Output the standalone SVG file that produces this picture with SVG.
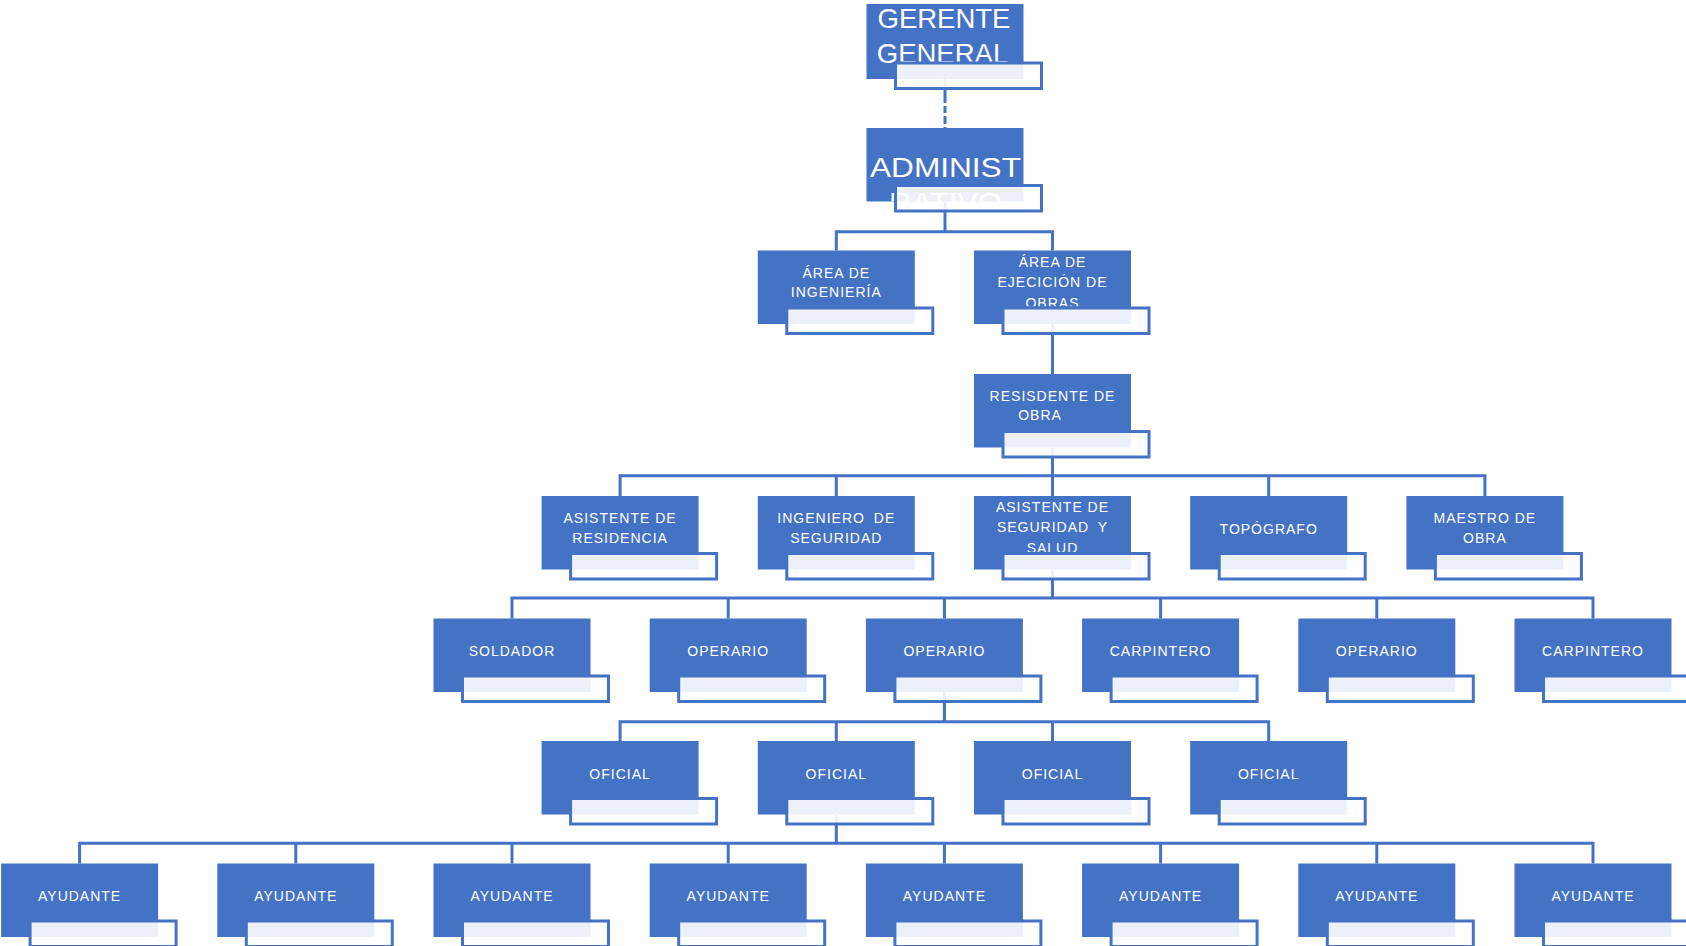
<svg xmlns="http://www.w3.org/2000/svg" width="1686" height="946" viewBox="0 0 1686 946">
<style>
.bg{fill:#ffffff}
.box{fill:#4472C4}
.sub{fill:#ffffff;fill-opacity:0.9;stroke:#4472C4;stroke-width:3}
.t{font-family:"Liberation Sans",Arial,sans-serif;font-size:14px;fill:#ffffff;letter-spacing:1px;text-anchor:middle}
.big{font-family:"Liberation Sans",Arial,sans-serif;font-size:27.5px;fill:#ffffff;text-anchor:middle}
.ws{word-spacing:4px}
.ln{fill:none;stroke:#4472C4;stroke-width:3}
.dash{fill:none;stroke:#4472C4;stroke-width:3;stroke-dasharray:25.5 3 7 3 8 3}
</style>
<defs>
<clipPath id="clip"><rect x="0" y="0" width="157" height="73.5"/></clipPath>
<clipPath id="clip3"><rect x="0" y="0" width="157" height="56"/></clipPath>
</defs>
<rect class="bg" x="0" y="0" width="1686" height="946"/>
<g id="connectors">
<path class="dash" d="M945,77.5 V128"/>
<path class="ln" d="M945,201.5 V231.7 M836.3,250.5 V231.7 H1052.5 V250.5"/>
<path class="ln" d="M1052.5,324 V374"/>
<path class="ln" d="M1052.5,447.5 V496 M620.1,496 V475.7 H1484.9 V496 M836.3,475.7 V496 M1268.7,475.7 V496"/>
<path class="ln" d="M1052.5,569.5 V598 M512,618.5 V598 H1593 V618.5 M728.2,598 V618.5 M944.4,598 V618.5 M1160.6,598 V618.5 M1376.8,598 V618.5"/>
<path class="ln" d="M944.4,692 V721.7 M620.1,741 V721.7 H1268.7 V741 M836.3,721.7 V741 M1052.5,721.7 V741"/>
<path class="ln" d="M836.3,814.5 V843.3 M79.6,863.5 V843.3 H1593 V863.5 M295.8,843.3 V863.5 M512,843.3 V863.5 M728.2,843.3 V863.5 M944.4,843.3 V863.5 M1160.6,843.3 V863.5 M1376.8,843.3 V863.5"/>
</g>

<g id="n-gerente" transform="translate(866.5,4)">
<rect class="box" width="157" height="75"/>
<g clip-path="url(#clip)"><text class="big" x="77.5" y="24.3">GERENTE</text><text class="big" x="76" y="59.3">GENERAL</text></g>
<rect class="sub" x="29" y="59" width="146" height="25.5"/>
</g>
<g id="n-admin" transform="translate(866.5,128)">
<rect class="box" width="157" height="73.5"/>
<g clip-path="url(#clip)"><text class="big" x="79" y="48.5" textLength="151" lengthAdjust="spacingAndGlyphs">ADMINIST</text><text class="big" x="79" y="83.5" textLength="113" lengthAdjust="spacingAndGlyphs">RATIVO</text></g>
<rect class="sub" x="29" y="57.5" width="146" height="25.5"/>
</g>

<g id="n-ingenieria" transform="translate(757.8,250.5)">
<rect class="box" width="157" height="73.5"/>
<text class="t" x="78.5" y="27">ÁREA DE</text><text class="t" x="78.5" y="46.5">INGENIERÍA</text>
<rect class="sub" x="29" y="57.5" width="146" height="25.5"/>
</g>
<g id="n-ejecucion" transform="translate(974,250.5)">
<rect class="box" width="157" height="73.5"/>
<g clip-path="url(#clip3)"><text class="t" x="78.5" y="16.5">ÁREA DE</text><text class="t" x="78.5" y="36.5">EJECICIÓN DE</text><text class="t" x="78.5" y="57.5">OBRAS</text></g>
<rect class="sub" x="29" y="57.5" width="146" height="25.5"/>
</g>

<g id="n-residente" transform="translate(974,374)">
<rect class="box" width="157" height="73.5"/>
<text class="t" x="78.5" y="26.5">RESISDENTE DE</text><text class="t" x="66" y="46">OBRA</text>
<rect class="sub" x="29" y="57.5" width="146" height="25.5"/>
</g>

<g id="n-asis-res" transform="translate(541.6,496)">
<rect class="box" width="157" height="73.5"/>
<text class="t" x="78.5" y="27">ASISTENTE DE</text><text class="t" x="78.5" y="46.5">RESIDENCIA</text>
<rect class="sub" x="29" y="57.5" width="146" height="25.5"/>
</g>
<g id="n-ing-seg" transform="translate(757.8,496)">
<rect class="box" width="157" height="73.5"/>
<text class="t ws" x="78.5" y="27">INGENIERO DE</text><text class="t" x="78.5" y="46.5">SEGURIDAD</text>
<rect class="sub" x="29" y="57.5" width="146" height="25.5"/>
</g>
<g id="n-asis-seg" transform="translate(974,496)">
<rect class="box" width="157" height="73.5"/>
<g clip-path="url(#clip3)"><text class="t" x="78.5" y="16">ASISTENTE DE</text><text class="t ws" x="78.5" y="36">SEGURIDAD Y</text><text class="t" x="78.5" y="57">SALUD</text></g>
<rect class="sub" x="29" y="57.5" width="146" height="25.5"/>
</g>
<g id="n-topografo" transform="translate(1190.2,496)">
<rect class="box" width="157" height="73.5"/>
<text class="t" x="78.5" y="37.5">TOPÓGRAFO</text>
<rect class="sub" x="29" y="57.5" width="146" height="25.5"/>
</g>
<g id="n-maestro" transform="translate(1406.4,496)">
<rect class="box" width="157" height="73.5"/>
<text class="t" x="78.5" y="27">MAESTRO DE</text><text class="t" x="78.5" y="46.5">OBRA</text>
<rect class="sub" x="29" y="57.5" width="146" height="25.5"/>
</g>

<g id="n-soldador" transform="translate(433.5,618.5)">
<rect class="box" width="157" height="73.5"/>
<text class="t" x="78.5" y="37.7">SOLDADOR</text>
<rect class="sub" x="29" y="57.5" width="146" height="25.5"/>
</g>
<g id="n-operario-1" transform="translate(649.7,618.5)">
<rect class="box" width="157" height="73.5"/>
<text class="t" x="78.5" y="37.7">OPERARIO</text>
<rect class="sub" x="29" y="57.5" width="146" height="25.5"/>
</g>
<g id="n-operario-2" transform="translate(865.9,618.5)">
<rect class="box" width="157" height="73.5"/>
<text class="t" x="78.5" y="37.7">OPERARIO</text>
<rect class="sub" x="29" y="57.5" width="146" height="25.5"/>
</g>
<g id="n-carpintero-1" transform="translate(1082.1,618.5)">
<rect class="box" width="157" height="73.5"/>
<text class="t" x="78.5" y="37.7">CARPINTERO</text>
<rect class="sub" x="29" y="57.5" width="146" height="25.5"/>
</g>
<g id="n-operario-3" transform="translate(1298.3,618.5)">
<rect class="box" width="157" height="73.5"/>
<text class="t" x="78.5" y="37.7">OPERARIO</text>
<rect class="sub" x="29" y="57.5" width="146" height="25.5"/>
</g>
<g id="n-carpintero-2" transform="translate(1514.5,618.5)">
<rect class="box" width="157" height="73.5"/>
<text class="t" x="78.5" y="37.7">CARPINTERO</text>
<rect class="sub" x="29" y="57.5" width="146" height="25.5"/>
</g>

<g id="n-oficial-1" transform="translate(541.6,741)">
<rect class="box" width="157" height="73.5"/>
<text class="t" x="78.5" y="37.5">OFICIAL</text>
<rect class="sub" x="29" y="57.5" width="146" height="25.5"/>
</g>
<g id="n-oficial-2" transform="translate(757.8,741)">
<rect class="box" width="157" height="73.5"/>
<text class="t" x="78.5" y="37.5">OFICIAL</text>
<rect class="sub" x="29" y="57.5" width="146" height="25.5"/>
</g>
<g id="n-oficial-3" transform="translate(974,741)">
<rect class="box" width="157" height="73.5"/>
<text class="t" x="78.5" y="37.5">OFICIAL</text>
<rect class="sub" x="29" y="57.5" width="146" height="25.5"/>
</g>
<g id="n-oficial-4" transform="translate(1190.2,741)">
<rect class="box" width="157" height="73.5"/>
<text class="t" x="78.5" y="37.5">OFICIAL</text>
<rect class="sub" x="29" y="57.5" width="146" height="25.5"/>
</g>

<g id="n-ayudante-1" transform="translate(1.1,863.5)">
<rect class="box" width="157" height="73.5"/>
<text class="t" x="78.5" y="37.7">AYUDANTE</text>
<rect class="sub" x="29" y="57.5" width="146" height="25.5"/>
</g>
<g id="n-ayudante-2" transform="translate(217.3,863.5)">
<rect class="box" width="157" height="73.5"/>
<text class="t" x="78.5" y="37.7">AYUDANTE</text>
<rect class="sub" x="29" y="57.5" width="146" height="25.5"/>
</g>
<g id="n-ayudante-3" transform="translate(433.5,863.5)">
<rect class="box" width="157" height="73.5"/>
<text class="t" x="78.5" y="37.7">AYUDANTE</text>
<rect class="sub" x="29" y="57.5" width="146" height="25.5"/>
</g>
<g id="n-ayudante-4" transform="translate(649.7,863.5)">
<rect class="box" width="157" height="73.5"/>
<text class="t" x="78.5" y="37.7">AYUDANTE</text>
<rect class="sub" x="29" y="57.5" width="146" height="25.5"/>
</g>
<g id="n-ayudante-5" transform="translate(865.9,863.5)">
<rect class="box" width="157" height="73.5"/>
<text class="t" x="78.5" y="37.7">AYUDANTE</text>
<rect class="sub" x="29" y="57.5" width="146" height="25.5"/>
</g>
<g id="n-ayudante-6" transform="translate(1082.1,863.5)">
<rect class="box" width="157" height="73.5"/>
<text class="t" x="78.5" y="37.7">AYUDANTE</text>
<rect class="sub" x="29" y="57.5" width="146" height="25.5"/>
</g>
<g id="n-ayudante-7" transform="translate(1298.3,863.5)">
<rect class="box" width="157" height="73.5"/>
<text class="t" x="78.5" y="37.7">AYUDANTE</text>
<rect class="sub" x="29" y="57.5" width="146" height="25.5"/>
</g>
<g id="n-ayudante-8" transform="translate(1514.5,863.5)">
<rect class="box" width="157" height="73.5"/>
<text class="t" x="78.5" y="37.7">AYUDANTE</text>
<rect class="sub" x="29" y="57.5" width="146" height="25.5"/>
</g>
</svg>
